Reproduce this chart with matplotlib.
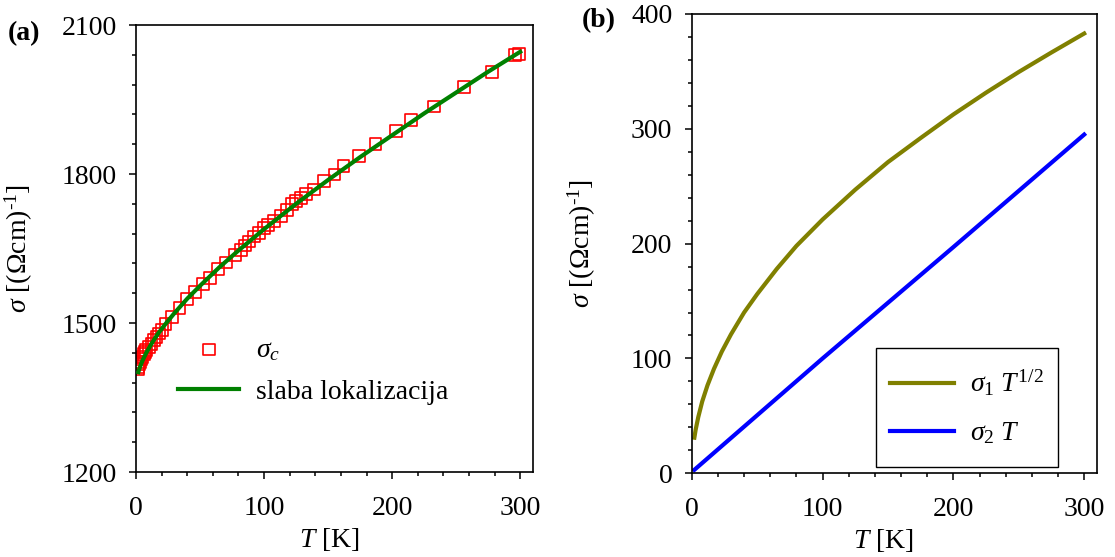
import numpy as np
import matplotlib
matplotlib.use("Agg")
import matplotlib.pyplot as plt
from matplotlib.ticker import MultipleLocator
from matplotlib.lines import Line2D
from matplotlib.legend_handler import HandlerLine2D

plt.rcParams["font.family"] = "Liberation Serif"
plt.rcParams["mathtext.fontset"] = "custom"
plt.rcParams["mathtext.rm"] = "Liberation Serif"
plt.rcParams["mathtext.it"] = "Liberation Serif:italic"
plt.rcParams["mathtext.bf"] = "Liberation Serif:bold"
plt.rcParams["font.size"] = 20

# (a) measured sigma_c
T_data = [1.5, 2, 2.5, 3, 4, 5, 6, 7, 8, 10, 12, 14, 16, 18, 20, 23, 28, 34,
          40, 46, 52, 58, 64, 70, 77, 82, 85, 88, 92, 96, 100, 103, 108, 113,
          118, 122, 125, 129, 133, 139, 147, 155, 162, 174, 187, 203, 215,
          233, 256, 278, 296, 299]
sig_data = [1407, 1412, 1417, 1421, 1427, 1432, 1437, 1441, 1445, 1451, 1458,
            1465, 1472, 1479, 1486, 1498, 1512, 1530, 1548, 1563, 1578, 1591,
            1608, 1622, 1637, 1647, 1656, 1664, 1674, 1681, 1691, 1697, 1705,
            1716, 1728, 1739, 1745, 1752, 1759, 1769, 1786, 1799, 1816, 1836,
            1861, 1887, 1909, 1936, 1975, 2005, 2040, 2041]

# (a) weak localization fit
T_fit = [1.8, 3, 5, 8, 12, 17, 23, 30, 40, 50, 65, 80, 100, 125, 150, 175,
         200, 225, 250, 275, 300]
sig_fit = [1401, 1411, 1424, 1440, 1458, 1478, 1498, 1520, 1549, 1575, 1612,
           1646, 1689, 1740, 1788, 1834, 1878, 1922, 1964, 2006, 2046]

# (b) components
T_b1 = [2, 3, 5, 8, 12, 17, 23, 30, 40, 50, 65, 80, 100, 125, 150, 175, 200,
        225, 250, 275, 300]
sig_1 = [31, 38, 49, 62.5, 76.5, 91, 106, 121, 140, 156, 178, 198, 221, 247,
         271, 292, 312.5, 331.5, 349.5, 366.5, 383]
T_b2 = [2, 100, 200, 300]
sig_2 = [3, 100, 197, 295]


def lower_handle(leg_line, orig):
    # copy style, then move the legend line down a bit
    leg_line.update_from(orig)
    leg_line.set_ydata(np.asarray(leg_line.get_ydata()) - 4.5)


fig = plt.figure(figsize=(11.15, 5.57), dpi=100)
ax1 = fig.add_axes([0.122, 0.1526, 0.356, 0.8025])
ax2 = fig.add_axes([0.6204, 0.1503, 0.3637, 0.8246])

ax1.scatter(T_data, sig_data, marker="s", s=72, facecolors="none",
            edgecolors="red", linewidths=1.2, label=r"$\sigma_c$", zorder=2)
ax1.plot(T_fit, sig_fit, color="green", linewidth=3,
         label="slaba lokalizacija", zorder=3)
ax1.set_xlim(0, 310)
ax1.set_ylim(1200, 2100)
ax1.yaxis.set_major_locator(MultipleLocator(300))
ax1.yaxis.set_minor_locator(MultipleLocator(60))
ax1.legend(loc="upper left", bbox_to_anchor=(0.078, 0.326), frameon=False,
           scatterpoints=1, handlelength=2.2, handletextpad=0.6,
           labelspacing=0.6, borderaxespad=0)

ax2.plot(T_b1, sig_1, color="olive", linewidth=3, label=r"$\sigma_1\ T^{1/2}$")
ax2.plot(T_b2, sig_2, color="blue", linewidth=3, label=r"$\sigma_2\ T$")
ax2.set_xlim(0, 310)
ax2.set_ylim(0, 400)
ax2.yaxis.set_major_locator(MultipleLocator(100))
ax2.yaxis.set_minor_locator(MultipleLocator(20))
leg = ax2.legend(loc="lower right", bbox_to_anchor=(0.903, 0.014),
                 fancybox=False, edgecolor="black", framealpha=1,
                 handlelength=2.3, handletextpad=0.6, labelspacing=0.2,
                 handleheight=2.0, borderpad=0.5, borderaxespad=0,
                 handler_map={Line2D: HandlerLine2D(update_func=lower_handle)})
leg.get_frame().set_linewidth(1.0)

for ax in (ax1, ax2):
    ax.xaxis.set_major_locator(MultipleLocator(100))
    ax.xaxis.set_minor_locator(MultipleLocator(20))
    ax.tick_params(which="both", direction="out", top=False, right=False,
                   width=1.1)
    ax.tick_params(which="major", length=5)
    ax.tick_params(which="minor", length=3)
    ax.tick_params(axis="x", which="major", pad=12)
    ax.tick_params(axis="y", which="major", pad=9)
    for s in ax.spines.values():
        s.set_linewidth(1.2)
    ax.set_xlabel(r"$T$ [K]")
    ax.set_ylabel("$\\sigma$ [($\\Omega$cm)$^{\\mathrm{\u2010}1}$]")

ax1.xaxis.set_label_coords(0.486, -0.12)
ax2.xaxis.set_label_coords(0.472, -0.116)
ax1.yaxis.set_label_coords(-0.255, 0.5)
ax2.yaxis.set_label_coords(-0.23, 0.5)

fig.text(0.007, 0.94, "(a)", fontweight="bold", fontsize=20, va="center")
fig.text(0.522, 0.963, "(b)", fontweight="bold", fontsize=20, va="center")

fig.savefig("out.png", dpi=100)
